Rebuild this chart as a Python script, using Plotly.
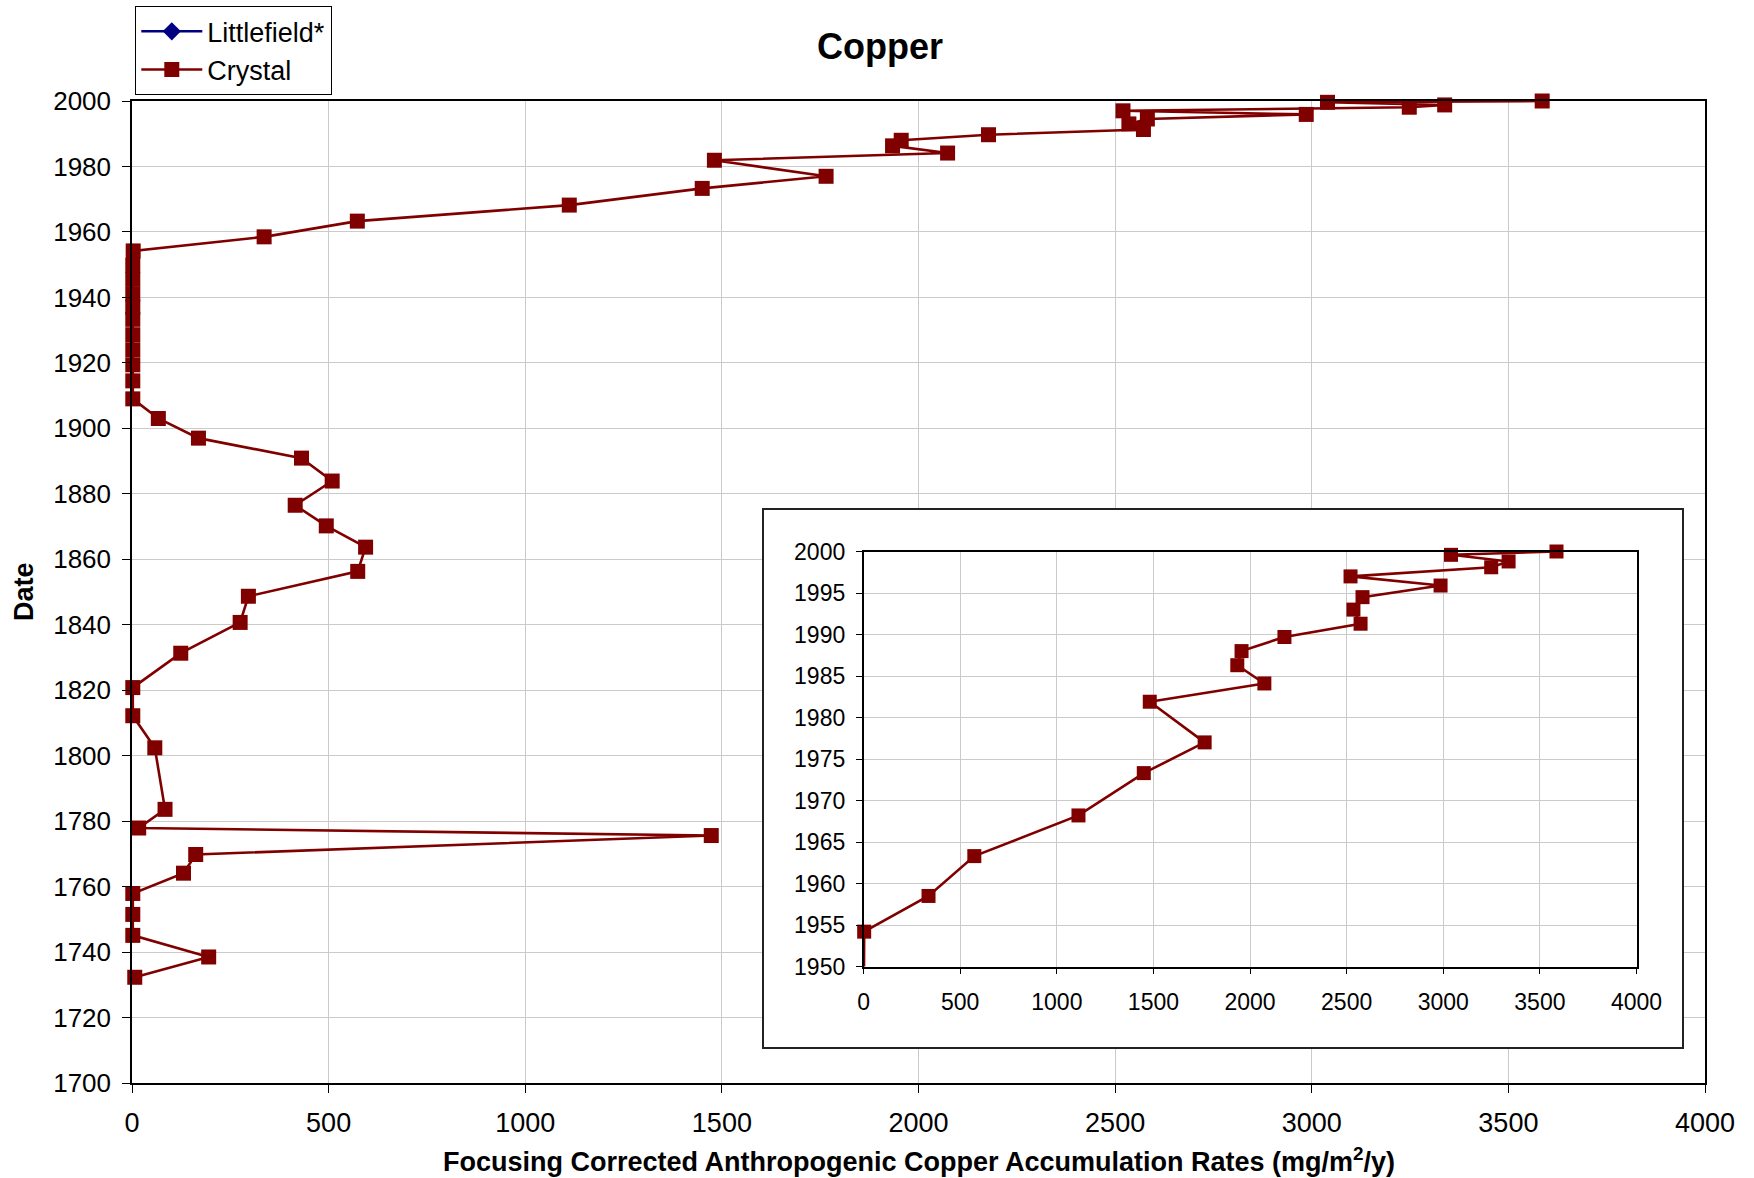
import numpy as np
import plotly.graph_objects as go

# Crystal core: focusing-corrected anthropogenic Cu accumulation (mg/m2/y) by date
crystal_date = [2000.0, 1999.6, 1998.8, 1998.1, 1997.0, 1995.9, 1994.5, 1993.0, 1991.3,
                1989.7, 1988.0, 1986.3, 1984.1, 1981.9, 1977.0, 1973.3, 1968.2, 1963.3,
                1958.5, 1954.2, 1949.8, 1945.5, 1941.0, 1937.0, 1933.3, 1928.6, 1924.0,
                1919.4, 1914.5, 1909.0, 1903.0, 1897.0, 1890.9, 1883.9, 1876.5, 1870.2,
                1863.7, 1856.3, 1848.7, 1840.7, 1831.3, 1820.8, 1812.2, 1802.4, 1783.6,
                1777.9, 1775.6, 1769.8, 1764.1, 1757.9, 1751.5, 1745.1, 1738.5, 1732.3]
crystal_rate = [3586, 3040, 3338, 3248, 2520, 2986, 2582, 2535, 2572,
                2178, 1956, 1934, 2074, 1481, 1765, 1450, 1112, 573,
                336, 3, 2, 2, 2, 2, 2, 2, 2,
                2, 2, 2, 67, 169, 431, 509, 415, 494,
                594, 574, 296, 275, 124, 2, 2, 58, 84,
                17, 1473, 162, 131, 2, 2, 2, 195, 7]

# Littlefield* has no values in this panel (legend entry only)
littlefield_date = [None]
littlefield_rate = [None]

main_x_ticks = list(range(0, 4001, 500))
main_y_ticks = list(range(1700, 2001, 20))
inset_x_ticks = list(range(0, 4001, 500))
inset_y_ticks = list(range(1950, 2001, 5))

CRYSTAL = "#800000"
LITTLE = "#000080"
FONT = "Liberation Sans, Arial, sans-serif"
GRID = "#cbcbcb"

date_arr = np.array(crystal_date)
rate_arr = np.array(crystal_rate)
in_inset = date_arr >= 1950

fig = go.Figure()

# legend-only series
fig.add_trace(go.Scatter(
    x=littlefield_rate, y=littlefield_date, name="Littlefield*",
    mode="lines+markers", legendgroup="a",
    line=dict(color=LITTLE, width=2.5),
    marker=dict(symbol="diamond", size=14, color=LITTLE),
))

# main profile
fig.add_trace(go.Scatter(
    x=crystal_rate, y=crystal_date, name="Crystal",
    mode="lines+markers", legendgroup="b", cliponaxis=False,
    line=dict(color=CRYSTAL, width=2.6),
    marker=dict(symbol="square", size=15, color=CRYSTAL, line=dict(width=0)),
))

# inset frame subplot (white box with border)
fig.add_trace(go.Scatter(x=[None], y=[None], xaxis="x2", yaxis="y2",
                         showlegend=False, hoverinfo="skip"))

# inset: line through all points (clipped), markers only for the 1950-2000 window
fig.add_trace(go.Scatter(
    x=crystal_rate, y=crystal_date, xaxis="x3", yaxis="y3",
    mode="lines", showlegend=False,
    line=dict(color=CRYSTAL, width=2.6),
))
fig.add_trace(go.Scatter(
    x=rate_arr[in_inset], y=date_arr[in_inset], xaxis="x3", yaxis="y3",
    mode="markers", showlegend=False, cliponaxis=False,
    marker=dict(symbol="square", size=14, color=CRYSTAL, line=dict(width=0)),
))

W, H = 1754, 1178
ML, MR, MT, MB = 132, 49, 101, 95
PW, PH = W - ML - MR, H - MT - MB


def px_x(x):
    return (x - ML) / PW


def px_y(y):
    return (H - MB - y) / PH


axis_common = dict(showline=True, linecolor="black", linewidth=1.5, mirror=True,
                   gridcolor=GRID, gridwidth=1, zeroline=False, ticks="outside",
                   tickcolor="black", ticklen=8, tickwidth=1.2)

fig.update_layout(
    width=W, height=H,
    margin=dict(l=ML, r=MR, t=MT, b=MB, autoexpand=False),
    paper_bgcolor="white", plot_bgcolor="white",
    font=dict(family=FONT, color="black"),
    title=dict(text="<b>Copper</b>", x=880 / W, xanchor="center",
               y=1 - 46 / H, yanchor="middle",
               font=dict(size=36, family=FONT, color="black")),
    showlegend=True,
    legend=dict(x=px_x(135), y=px_y(6), xanchor="left", yanchor="top",
                bgcolor="white", bordercolor="black", borderwidth=1.3,
                font=dict(size=27, family=FONT), itemwidth=61,
                tracegroupgap=5, traceorder="normal"),
    xaxis=dict(range=[0, 4000], tickvals=main_x_ticks, **axis_common,
               tickfont=dict(size=27, family=FONT), ticklabelstandoff=7),
    yaxis=dict(range=[1700, 2000], tickvals=main_y_ticks, **axis_common,
               tickfont=dict(size=26, family=FONT), ticklabelstandoff=6),
    xaxis2=dict(domain=[px_x(764), px_x(1682)], anchor="y2", range=[0, 1],
                showline=True, mirror=True, linecolor="#222", linewidth=1.5,
                showgrid=False, zeroline=False, showticklabels=False, ticks=""),
    yaxis2=dict(domain=[px_y(1047), px_y(510)], anchor="x2", range=[0, 1],
                showline=True, mirror=True, linecolor="#222", linewidth=1.5,
                showgrid=False, zeroline=False, showticklabels=False, ticks=""),
    xaxis3=dict(domain=[px_x(863.6), px_x(1636.5)], anchor="y3", range=[0, 4000],
                tickvals=inset_x_ticks, **{**axis_common, "ticklen": 6},
                tickfont=dict(size=23, family=FONT), ticklabelstandoff=8),
    yaxis3=dict(domain=[px_y(966.5), px_y(551.5)], anchor="x3", range=[1950, 2000],
                tickvals=inset_y_ticks, **{**axis_common, "ticklen": 6},
                tickfont=dict(size=23, family=FONT), ticklabelstandoff=6),
    annotations=[
        dict(text="<b>Focusing Corrected Anthropogenic Copper Accumulation Rates (mg/m<sup>2</sup>/y)</b>",
             x=0.5, y=px_y(1160), xref="paper", yref="paper",
             xanchor="center", yanchor="middle", showarrow=False,
             font=dict(size=27, family=FONT, color="black")),
        dict(text="<b>Date</b>", x=px_x(24), y=0.5, xref="paper", yref="paper",
             xanchor="center", yanchor="middle", textangle=-90, showarrow=False,
             font=dict(size=27, family=FONT, color="black")),
    ],
)

fig.write_html("out.html")
